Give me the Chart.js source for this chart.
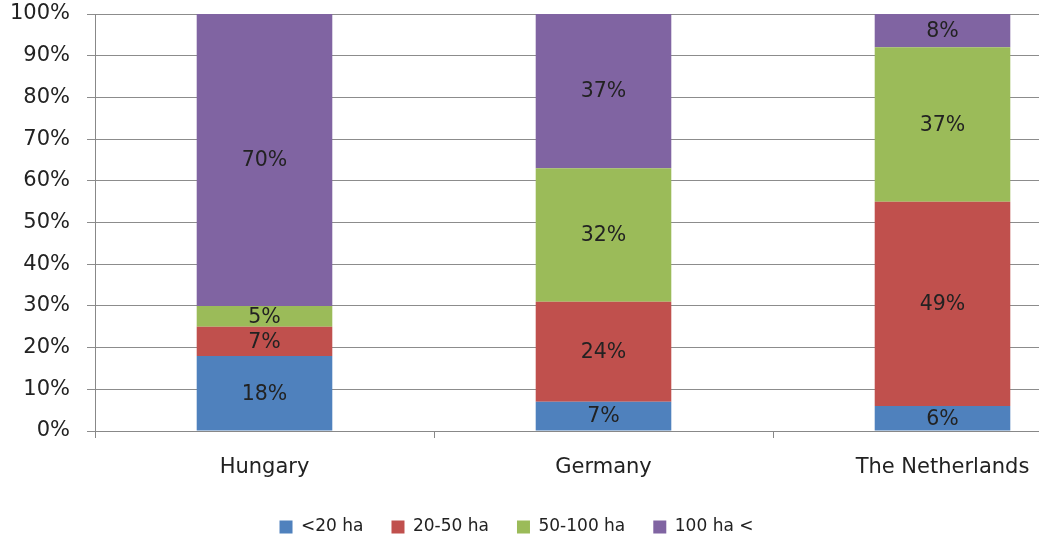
<!DOCTYPE html>
<html>
<head>
<meta charset="utf-8">
<script src="https://cdn.jsdelivr.net/npm/chart.js@4/dist/chart.umd.min.js"></script>
<style>
  html, body { margin: 0; padding: 0; background: #fff; }
  #wrap { width: 1039px; height: 539px; overflow: hidden; position: relative; }
  canvas { display: block; }
</style>
</head>
<body>
<div id="wrap"><canvas id="chart" width="1120" height="539"></canvas></div>
<script>
// Farm size distribution by country (share of farms, %)
const countries = ['Hungary', 'Germany', 'The Netherlands'];
const sizeClasses = ['<20 ha', '20-50 ha', '50-100 ha', '100 ha <'];
const under20 = [18, 7, 6];
const from20to50 = [7, 24, 49];
const from50to100 = [5, 32, 37];
const over100 = [70, 37, 8];
const yTicks = [0, 10, 20, 30, 40, 50, 60, 70, 80, 90, 100];

const colors = ['#4F81BD', '#C0504D', '#9BBB59', '#8064A2'];
const series = [under20, from20to50, from50to100, over100];
const FONT = 'DejaVu Sans';
const VIEW_WIDTH = 1039;   // visible part of the canvas
const LEGEND_ROW_Y = 527;  // vertical centre of the legend row

// Writes each segment's percentage in the middle of its bar segment
const segmentLabels = {
  id: 'segmentLabels',
  afterDatasetsDraw(chart) {
    const ctx = chart.ctx;
    ctx.save();
    ctx.font = '20.5px "' + FONT + '"';
    ctx.fillStyle = '#222';
    ctx.textAlign = 'center';
    ctx.textBaseline = 'middle';
    chart.data.datasets.forEach((ds, i) => {
      const meta = chart.getDatasetMeta(i);
      meta.data.forEach((bar, j) => {
        const v = ds.data[j];
        const yMid = (bar.y + bar.base) / 2;
        ctx.fillText(v + '%', bar.x, yMid + 1);
      });
    });
    ctx.restore();
  }
};

// Centres the legend on the visible width and sets its row height
const legendPlacement = {
  id: 'legendPlacement',
  beforeDraw(chart) {
    const lg = chart.legend;
    if (!lg) return;
    const pad = lg.options.labels.padding;
    const fontSize = lg.options.labels.font.size;
    lg.left = -3;
    lg.right = VIEW_WIDTH - 3;
    lg.width = VIEW_WIDTH;
    const h = lg.bottom - lg.top;
    lg.top = LEGEND_ROW_Y - pad - fontSize / 2;
    lg.bottom = lg.top + h;
  }
};

new Chart(document.getElementById('chart'), {
  type: 'bar',
  data: {
    labels: countries,
    datasets: sizeClasses.map((name, i) => ({
      label: name,
      data: series[i],
      backgroundColor: colors[i],
      borderWidth: 0,
      categoryPercentage: 1,
      barPercentage: 0.4
    }))
  },
  options: {
    responsive: false,
    animation: false,
    layout: { padding: { top: 14, left: 0, right: 8, bottom: 0 } },
    plugins: {
      tooltip: { enabled: false },
      legend: {
        position: 'bottom',
        labels: {
          font: { family: FONT, size: 17 },
          color: '#222',
          boxWidth: 13,
          boxHeight: 13,
          padding: 28
        }
      }
    },
    scales: {
      x: {
        stacked: true,
        grid: {
          display: true,
          drawOnChartArea: false,
          drawTicks: true,
          tickLength: 7,
          offset: true,
          color: '#888'
        },
        border: { display: true, color: '#888' },
        ticks: {
          font: { family: FONT, size: 21 },
          color: '#222',
          padding: 17
        },
        afterFit(scale) { scale.height = 53; }
      },
      y: {
        stacked: true,
        min: 0,
        max: 100,
        afterBuildTicks(scale) { scale.ticks = yTicks.map(v => ({ value: v })); },
        grid: {
          color: '#8c8c8c',
          tickLength: 8
        },
        border: { display: true, color: '#888' },
        ticks: {
          font: { family: FONT, size: 21 },
          color: '#222',
          padding: 17,
          callback: v => v + '%'
        },
        afterFit(scale) {
          scale.width = 95;
          scale.paddingTop = 0;
          scale.paddingBottom = 0;
        }
      }
    }
  },
  plugins: [segmentLabels, legendPlacement]
});
</script>
</body>
</html>
